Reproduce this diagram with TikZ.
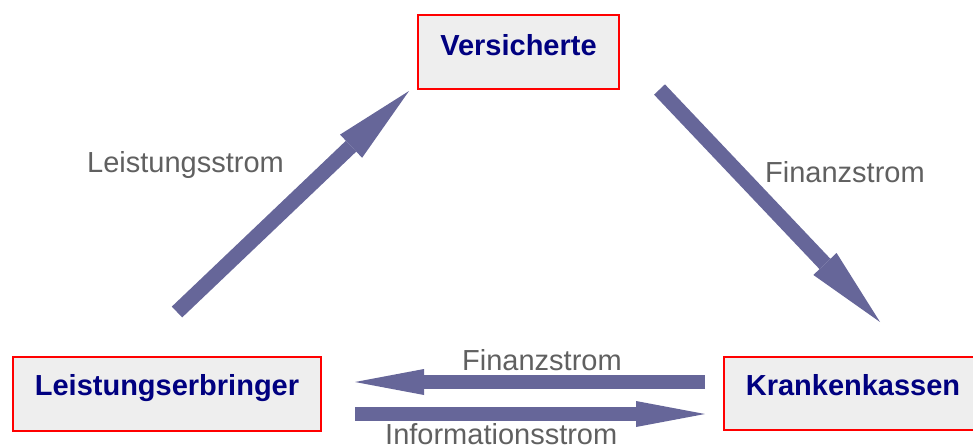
\documentclass[tikz,border=0pt]{standalone}
\usepackage{fontspec}
\setmainfont{Liberation Sans}
\usetikzlibrary{arrows.meta}
\definecolor{flow}{HTML}{666699}
\definecolor{labelgrey}{HTML}{606060}
\definecolor{boxfill}{HTML}{EEEEEE}
\definecolor{boxtext}{HTML}{000080}
\begin{document}
\begin{tikzpicture}[x=1pt,y=-1pt,
  party/.style={draw=red, line width=2pt, fill=boxfill, inner sep=0pt,
    text=boxtext, font=\fontsize{29}{34}\selectfont\bfseries, text height=21pt},
  flowlabel/.style={inner sep=0pt, anchor=base west, text=labelgrey,
    font=\fontsize{29}{34}\selectfont},
  bigflow/.style={draw=flow, line width=15pt,
    -{Triangle[length=80pt,width=32pt,line width=0pt]}},
  sideflow/.style={draw=flow, line width=14pt,
    -{Triangle[length=69pt,width=26pt,line width=0pt]}}]
\useasboundingbox (0,0) rectangle (973,447);

% parties
\node[party, text depth=15pt, minimum width=201pt, minimum height=74pt]
  (vers) at (518.5,52) {Versicherte};
\node[party, text depth=19pt, minimum width=308pt, minimum height=74pt]
  (leist) at (167,394) {Leistungserbringer};
\node[party, text depth=18pt, minimum width=258pt, minimum height=73pt]
  (kasse) at (853,393.5) {Krankenkassen};

% arrow end points
\coordinate (l1) at (177,312);   \coordinate (v1) at (409,91);
\coordinate (v2) at (659.5,89.5); \coordinate (k2) at (880,322);
\coordinate (k3) at (705,382);   \coordinate (l3) at (355,382);
\coordinate (l4) at (355,414);   \coordinate (k4) at (705,414);

% flows
\draw[bigflow] (l1) -- (v1);
\draw[bigflow] (v2) -- (k2);
\draw[sideflow] (k3) -- (l3);
\draw[sideflow] (l4) -- (k4);

% flow labels
\node[flowlabel] (lab1) at (87,172) {Leistungsstrom};
\node[flowlabel] (lab2) at (765,182) {Finanzstrom};
\node[flowlabel] (lab3) at (462,370) {Finanzstrom};
\node[flowlabel] (lab4) at (385,444.5) {Informationsstrom};
\end{tikzpicture}
\end{document}
